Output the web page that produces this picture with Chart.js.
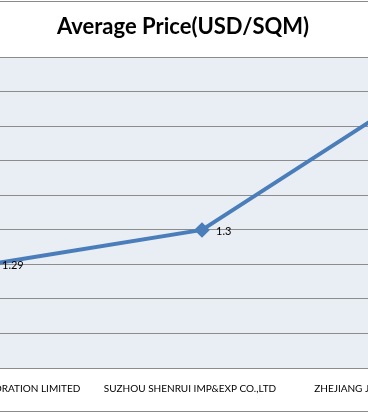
<!DOCTYPE html>
<html>
<head>
<meta charset="utf-8">
<script src="https://cdn.jsdelivr.net/npm/chart.js@4.4.1/dist/chart.umd.min.js"></script>
<style>
  html, body { margin: 0; padding: 0; background: #fff; }
  #view { position: relative; width: 368px; height: 414px; overflow: hidden; background: #fff; }
  #frame { position: absolute; left: -20px; width: 420px; top: 1px; height: 409px;
           border-top: 1px solid #8a8a8a; border-bottom: 1px solid #8a8a8a; pointer-events: none; z-index: 2; }
  #wrap { position: absolute; left: -167px; top: 0; width: 700px; height: 414px; }
</style>
</head>
<body>
<div id="view">
  <div id="wrap"><canvas id="c"></canvas></div>
  <div id="frame"></div>
</div>
<script>
const categories = ["CHINA XINYI GLASS CORPORATION LIMITED", "SUZHOU SHENRUI IMP&EXP CO.,LTD", "ZHEJIANG JINGCHENG GLASS CO.,LTD"];
const avgPrice = [1.29, 1.30, 1.34];
const chartTitle = "Average Price(USD/SQM)";

const plotBg = {
  id: 'plotBg',
  beforeDraw(chart) {
    const {ctx, chartArea: a} = chart;
    ctx.save();
    ctx.fillStyle = '#E9EDF4';
    ctx.fillRect(a.left, a.top, a.right - a.left, a.bottom - a.top);
    ctx.restore();
  }
};
const valueLabels = {
  id: 'valueLabels',
  afterDatasetsDraw(chart) {
    const ctx = chart.ctx;
    const meta = chart.getDatasetMeta(0);
    ctx.save();
    ctx.font = '11px Lato';
    ctx.fillStyle = '#000';
    ctx.textAlign = 'left';
    ctx.textBaseline = 'middle';
    meta.data.forEach((pt, i) => {
      ctx.fillText(String(avgPrice[i]), pt.x + 14, pt.y + 1);
    });
    ctx.restore();
  }
};

new Chart(document.getElementById('c'), {
  type: 'line',
  data: {
    labels: categories,
    datasets: [{
      data: avgPrice,
      borderColor: '#4A7EBB',
      backgroundColor: '#4A7EBB',
      borderWidth: 4,
      pointStyle: 'rectRot',
      pointRadius: 5,
      pointHoverRadius: 5,
      tension: 0,
      fill: false
    }]
  },
  options: {
    responsive: true,
    maintainAspectRatio: false,
    animation: false,
    events: [],
    layout: { padding: { left: 10, right: 10, top: 0, bottom: 0 } },
    plugins: {
      legend: { display: false },
      tooltip: { enabled: false },
      title: {
        display: true,
        text: chartTitle,
        color: '#000',
        font: { family: 'Lato', size: 22, weight: 'bold', lineHeight: 1.2 },
        padding: { top: 14, bottom: 17 }
      }
    },
    scales: {
      x: {
        offset: true,
        grid: { display: false, drawTicks: false },
        border: { display: false },
        afterFit(scale) { scale.height = 46; },
        ticks: {
          color: '#000',
          font: { family: 'Lato', size: 10 },
          padding: 15,
          maxRotation: 0,
          autoSkip: false,
          labelOffset: -12
        }
      },
      y: {
        min: 1.26,
        max: 1.35,
        afterFit(scale) { scale.width = 38; },
        ticks: { display: false, stepSize: 0.01 },
        grid: { color: '#8c8c8c', lineWidth: 1, drawTicks: false },
        border: { display: false }
      }
    }
  },
  plugins: [plotBg, valueLabels]
});
</script>
</body>
</html>
